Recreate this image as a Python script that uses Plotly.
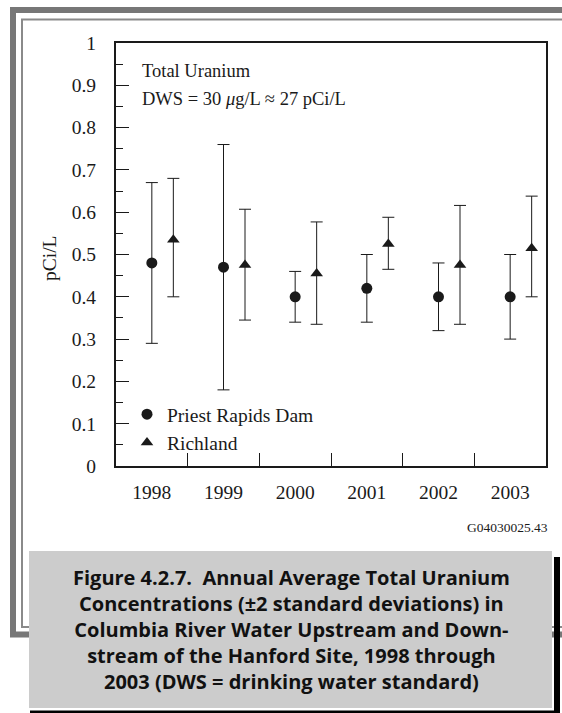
import plotly.graph_objects as go

YEARS = ["1998", "1999", "2000", "2001", "2002", "2003"]

PRIEST_MEAN = [0.48, 0.47, 0.40, 0.42, 0.40, 0.40]
PRIEST_LOW = [0.29, 0.18, 0.34, 0.34, 0.32, 0.30]
PRIEST_HIGH = [0.67, 0.76, 0.46, 0.50, 0.48, 0.50]

RICH_MEAN = [0.535, 0.475, 0.455, 0.525, 0.475, 0.515]
RICH_LOW = [0.40, 0.345, 0.335, 0.465, 0.335, 0.40]
RICH_HIGH = [0.68, 0.607, 0.577, 0.588, 0.616, 0.638]

W, H = 562, 713
L, R, T, B = 116, 546, 43, 466  # plot box in pixels

SERIF = "Liberation Serif, Times New Roman, serif"
INK = "#1a1a1a"


def px(x):
    return (x - L) / (R - L)


def py(y):
    return (B - y) / (B - T)


def err(mean, low, high):
    return dict(type="data", symmetric=False,
                array=[h - m for m, h in zip(mean, high)],
                arrayminus=[m - l for m, l in zip(mean, low)],
                width=6, thickness=1, color=INK)


fig = go.Figure()
fig.add_trace(go.Scatter(
    x=[i + 0.5 for i in range(len(YEARS))], y=PRIEST_MEAN,
    mode="markers", name="Priest Rapids Dam",
    marker=dict(symbol="circle", size=11, color=INK),
    error_y=err(PRIEST_MEAN, PRIEST_LOW, PRIEST_HIGH),
))
fig.add_trace(go.Scatter(
    x=[i + 0.8 for i in range(len(YEARS))], y=RICH_MEAN,
    mode="markers", name="Richland",
    marker=dict(symbol="triangle-up", size=11, color=INK),
    error_y=err(RICH_MEAN, RICH_LOW, RICH_HIGH),
))

fig.update_layout(
    width=W, height=H,
    margin=dict(l=L, r=W - R, t=T, b=H - B),
    plot_bgcolor="white", paper_bgcolor="white",
    font=dict(family=SERIF, size=19.5, color=INK),
    showlegend=True,
    legend=dict(x=px(127), y=py(395), xanchor="left", yanchor="top",
                bgcolor="rgba(0,0,0,0)", font=dict(size=19.5),
                tracegroupgap=0, itemclick=False),
)

fig.update_xaxes(
    range=[0, 6], showgrid=False, zeroline=False,
    tickvals=[i + 0.5 for i in range(len(YEARS))], ticktext=YEARS,
    ticks="", ticklabelstandoff=8,
    minor=dict(tickvals=[1, 2, 3, 4, 5], ticks="inside", ticklen=13,
               tickcolor=INK, tickwidth=1),
    showline=True, mirror=True, linewidth=2, linecolor=INK,
)
fig.update_yaxes(
    range=[0, 1], showgrid=False, zeroline=False,
    dtick=0.1, ticks="inside", ticklen=13, tickcolor=INK, tickwidth=1,
    ticklabelstandoff=14,
    minor=dict(dtick=0.05, ticks="inside", ticklen=7, tickcolor=INK, tickwidth=1),
    showline=True, mirror=True, linewidth=2, linecolor=INK,
)

notes = [
    dict(x=px(140), y=py(71), text="Total Uranium", xanchor="left"),
    dict(x=px(140), y=py(99), text="DWS = 30 <i>μ</i>g/L ≈ 27 pCi/L", xanchor="left"),
]
for n in notes:
    fig.add_annotation(xref="paper", yref="paper", yanchor="middle",
                       showarrow=False, font=dict(size=18.5), **n)

fig.add_annotation(xref="paper", yref="paper", x=px(49), y=py(258),
                   text="pCi/L", textangle=-90, showarrow=False,
                   xanchor="center", yanchor="middle", font=dict(size=19.5))
fig.add_annotation(xref="paper", yref="paper", x=px(550), y=py(527),
                   text="G04030025.43", showarrow=False,
                   xanchor="right", yanchor="middle", font=dict(size=13.5))

# page frame, caption box and its shadow
frame = [
    dict(type="rect", x0=px(13), x1=px(620), y0=py(10), y1=py(634.5),
         line=dict(color="#777777", width=6)),
    dict(type="rect", x0=px(22), x1=px(620), y0=py(19.5), y1=py(627),
         line=dict(color="#8a8a8a", width=2)),
    dict(type="rect", x0=px(29), x1=px(552), y0=py(551), y1=py(708),
         fillcolor="#cccccc", line=dict(width=0)),
    dict(type="rect", x0=px(554), x1=px(560), y0=py(557), y1=py(713),
         fillcolor="#000000", line=dict(width=0)),
    dict(type="rect", x0=px(30), x1=px(560), y0=py(710.5), y1=py(713),
         fillcolor="#000000", line=dict(width=0)),
]
for s in frame:
    fig.add_shape(xref="paper", yref="paper", layer="above", **s)

caption = ("Figure 4.2.7.  Annual Average Total Uranium<br>"
           "Concentrations (±2 standard deviations) in<br>"
           "Columbia River Water Upstream and Down-<br>"
           "stream of the Hanford Site, 1998 through<br>"
           "2003 (DWS = drinking water standard)")
fig.add_annotation(xref="paper", yref="paper", x=px(291), y=py(629),
                   text=caption, showarrow=False, align="center",
                   xanchor="center", yanchor="middle",
                   font=dict(family="Open Sans, sans-serif", size=20, weight=700,
                             color="#111111"))

fig.write_html("out.html", config={"displayModeBar": False},
               post_script="document.body.style.margin='0';")
